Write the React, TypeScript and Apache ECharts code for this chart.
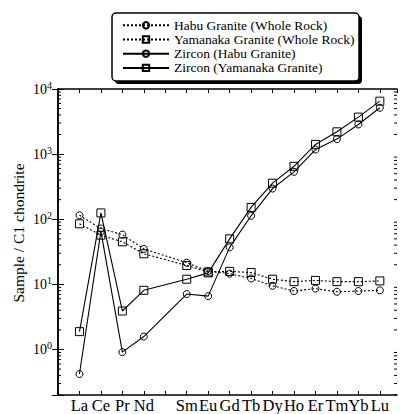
import React, { useEffect, useRef } from "react";
import * as echarts from "echarts";

const elements = ["La", "Ce", "Pr", "Nd", "Pm", "Sm", "Eu", "Gd", "Tb", "Dy", "Ho", "Er", "Tm", "Yb", "Lu"];
const elementLabels = ["La", "Ce", "Pr", "Nd", "", "Sm", "Eu", "Gd", "Tb", "Dy", "Ho", "Er", "Tm", "Yb", "Lu"];
const habuWR = [115, 72, 58, 35, null, 21.5, 16, 14.6, 12.3, 9.5, 7.9, 8.6, 7.7, 7.9, 8.1];
const yamanakaWR = [85, 57, 45, 29.5, null, 19.5, 15.5, 15.8, 15.2, 12, 11, 11.5, 11, 11, 11.3];
const zirconHabu = [0.42, 65, 0.91, 1.58, null, 7.1, 6.6, 37, 113, 296, 535, 1175, 1700, 2850, 5150];
const zirconYamanaka = [1.88, 125, 3.9, 8.1, null, 12, 15, 50, 152, 358, 650, 1410, 2200, 3700, 6500];
const seriesNames = [
  "Habu Granite (Whole Rock)",
  "Yamanaka Granite (Whole Rock)",
  "Zircon (Habu Granite)",
  "Zircon (Yamanaka Granite)",
];
const yMin = 0.2;
const yMax = 10000;
const xMin = 0;
const xMax = 15.8;
const minorTickValues = [
  0.2, 0.3, 0.4, 0.5, 0.6, 0.7, 0.8, 0.9,
  2, 3, 4, 5, 6, 7, 8, 9,
  20, 30, 40, 50, 60, 70, 80, 90,
  200, 300, 400, 500, 600, 700, 800, 900,
  2000, 3000, 4000, 5000, 6000, 7000, 8000, 9000,
];

const FONT = "'Liberation Serif', 'DejaVu Serif', serif";

function toPairs(arr: (number | null)[]) {
  const out: [number, number][] = [];
  arr.forEach((v, i) => {
    if (v !== null) out.push([i + 1, v]);
  });
  return out;
}

export default function App() {
  const ref = useRef<HTMLDivElement>(null);
  useEffect(() => {
    if (!ref.current) return;
    const chart = echarts.init(ref.current, null, { renderer: "svg" });
    const makeLine = (name: string, data: (number | null)[], symbol: string, size: number, dotted: boolean) => ({
      name,
      type: "line",
      data: toPairs(data),
      symbol,
      symbolSize: size,
      showSymbol: true,
      lineStyle: { color: "#000", width: 1.1, type: dotted ? [2, 2] : "solid" },
      itemStyle: { color: "rgba(255,255,255,0)", borderColor: "#000", borderWidth: 1 },
      z: 3,
    });
    chart.setOption({
      animation: false,
      backgroundColor: "#fff",
      grid: { left: 58, right: 3, top: 89, bottom: 17 },
      graphic: [
        { type: "rect", z: 0, shape: { x: 115, y: 16, width: 247, height: 68, r: 4 }, style: { fill: "#000" } },
        { type: "rect", z: 1, shape: { x: 112, y: 13, width: 247, height: 68, r: 4 }, style: { fill: "#fff", stroke: "#000", lineWidth: 1.5 } },
        {
          type: "text",
          z: 5,
          x: 18,
          y: 233,
          rotation: Math.PI / 2,
          style: { text: "Sample / C1 chondrite", fontFamily: FONT, fontSize: 15.5, fill: "#000", align: "center", verticalAlign: "middle" },
        },
      ],
      legend: {
        data: seriesNames,
        orient: "vertical",
        left: 112,
        top: 13,
        padding: [5.3, 0, 0, 10],
        itemWidth: 46,
        itemHeight: 8,
        itemGap: 0.2,
        z: 10,
        textStyle: { fontFamily: FONT, fontSize: 13.5, color: "#000", lineHeight: 13.5 },
      },
      xAxis: [
        {
          type: "value",
          min: xMin,
          max: xMax,
          interval: 1,
          splitLine: { show: false },
          axisLine: { lineStyle: { color: "#000", width: 1.5 } },
          axisTick: { inside: true, length: 4, lineStyle: { color: "#000", width: 1 } },
          axisLabel: {
            margin: 2,
            color: "#000",
            fontFamily: FONT,
            fontSize: 16.5,
            showMaxLabel: false,
            formatter: (v: number) => {
              const i = Math.round(v) - 1;
              return i >= 0 && i < elementLabels.length ? elementLabels[i] : "";
            },
          },
        },
        {
          type: "value",
          position: "top",
          min: xMin,
          max: xMax,
          interval: 1,
          splitLine: { show: false },
          axisLine: { lineStyle: { color: "#000", width: 1.5 } },
          axisTick: { inside: true, length: 4, lineStyle: { color: "#000", width: 1 } },
          axisLabel: { show: false },
        },
      ],
      yAxis: [
        {
          type: "log",
          logBase: 10,
          min: yMin,
          max: yMax,
          splitLine: { show: false },
          axisLine: { lineStyle: { color: "#000", width: 1.5 } },
          axisTick: { inside: true, length: 6, lineStyle: { color: "#000", width: 1 } },
          axisLabel: {
            margin: 6,
            color: "#000",
            formatter: (v: number) => {
              const e = Math.round(Math.log10(v));
              if (Math.abs(Math.pow(10, e) - v) / v > 1e-6) return "";
              return `{b|10}{s|${e}}`;
            },
            rich: {
              b: { fontFamily: FONT, fontSize: 14, lineHeight: 18, color: "#000" },
              s: { fontFamily: FONT, fontSize: 10, lineHeight: 10, verticalAlign: "top", color: "#000" },
            },
          },
        },
        {
          type: "log",
          logBase: 10,
          position: "right",
          min: yMin,
          max: yMax,
          splitLine: { show: false },
          axisLine: { lineStyle: { color: "#000", width: 1.5 } },
          axisTick: { inside: true, length: 6, lineStyle: { color: "#000", width: 1 } },
          axisLabel: { show: false },
        },
      ],
      series: [
        makeLine(seriesNames[0], habuWR, "circle", 7, true),
        makeLine(seriesNames[1], yamanakaWR, "rect", 8, true),
        makeLine(seriesNames[2], zirconHabu, "circle", 7, false),
        makeLine(seriesNames[3], zirconYamanaka, "rect", 8, false),
        {
          type: "custom",
          name: "minorTicks",
          silent: true,
          clip: false,
          data: minorTickValues.map((v) => [xMin, v]),
          renderItem: (params: any, api: any) => {
            const v = api.value(1);
            const pl = api.coord([xMin, v]);
            const pr = api.coord([xMax, v]);
            return {
              type: "group",
              children: [
                { type: "line", shape: { x1: pl[0], y1: pl[1], x2: pl[0] + 3, y2: pl[1] }, style: { stroke: "#000", lineWidth: 1 } },
                { type: "line", shape: { x1: pr[0] - 3, y1: pr[1], x2: pr[0], y2: pr[1] }, style: { stroke: "#000", lineWidth: 1 } },
              ],
            };
          },
        },
      ],
    });
    return () => chart.dispose();
  }, []);
  return <div ref={ref} style={{ position: "absolute", left: 0, top: 0, width: 400, height: 414 }} />;
}
